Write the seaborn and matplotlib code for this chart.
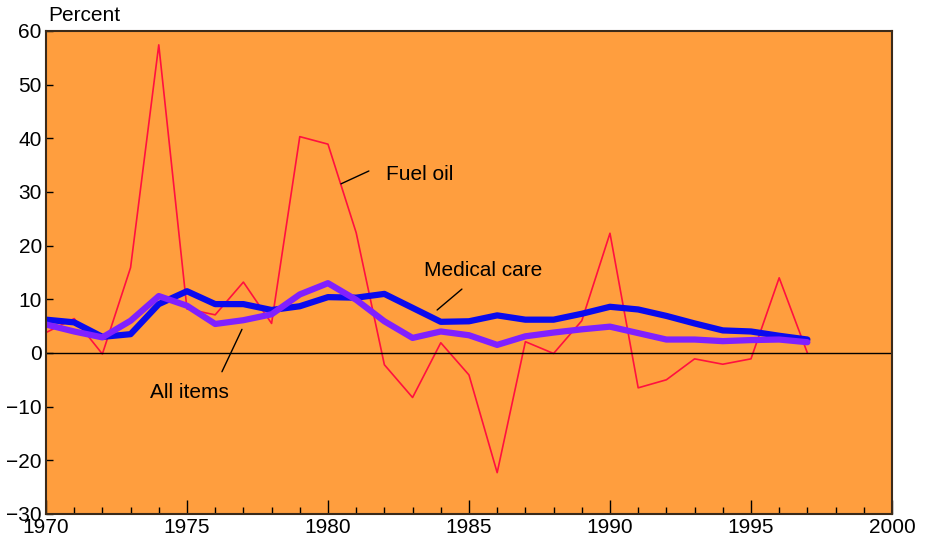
import matplotlib
matplotlib.use('Agg')
import matplotlib.pyplot as plt
from matplotlib.ticker import MultipleLocator
import seaborn as sns
import pandas as pd
import numpy as np

# --- data (percent change, annual) ---
years = list(range(1970, 1998))
fuel_oil = [3.8, 6.4, -0.2, 15.9, 57.4, 8.2, 7.1, 13.2, 5.5, 40.3, 38.9, 22.4, -2.2, -8.3,
            1.9, -4.1, -22.3, 2.1, -0.1, 6.0, 22.3, -6.5, -5.0, -1.1, -2.1, -1.1, 14.0, 0.0]
medical_care = [6.2, 5.7, 3.0, 3.5, 9.1, 11.5, 9.1, 9.1, 8.0, 8.7, 10.4, 10.3, 11.0, 8.4,
                5.8, 5.9, 7.0, 6.2, 6.2, 7.3, 8.6, 8.1, 6.9, 5.5, 4.2, 4.0, 3.2, 2.5]
all_items = [5.3, 4.0, 2.9, 6.0, 10.6, 8.8, 5.4, 6.1, 7.2, 10.9, 13.0, 9.9, 5.9, 2.8,
             4.0, 3.3, 1.5, 3.1, 3.8, 4.4, 4.9, 3.7, 2.5, 2.5, 2.2, 2.4, 2.5, 2.0]
y_ticks = list(range(-30, 61, 10))
y_ticklabels = ['\u221230', '\u221220', '\u221210', '0', '10', '20', '30', '40', '50', '60']

df = pd.DataFrame({'year': years, 'Fuel oil': fuel_oil,
                   'Medical care': medical_care, 'All items': all_items})

sns.set_style('ticks')
plt.rcParams['font.family'] = ['Liberation Sans', 'DejaVu Sans']
plt.rcParams['text.color'] = 'black'
fs = 15

fig = plt.figure(figsize=(9.25, 5.42), dpi=100)
ax = fig.add_axes([0.0497, 0.0517, 0.9146, 0.8913])
ax.set_facecolor('#FF9E3E')

sns.lineplot(data=df, x='year', y='Fuel oil', ax=ax, color='#FF1040', linewidth=1.2)
sns.lineplot(data=df, x='year', y='Medical care', ax=ax, color='#0A0AEE', linewidth=4.5)
sns.lineplot(data=df, x='year', y='All items', ax=ax, color='#8020FF', linewidth=4.5)

ax.axhline(0, color='black', linewidth=1)

ax.set_xlim(1970, 2000)
ax.set_ylim(-30, 60)
ax.xaxis.set_major_locator(MultipleLocator(5))
ax.xaxis.set_minor_locator(MultipleLocator(1))
ax.tick_params(axis='both', which='both', direction='in', labelsize=fs, colors='black')
ax.tick_params(axis='x', which='major', length=10, width=1, pad=3)
ax.tick_params(axis='x', which='minor', length=5, width=1)
ax.tick_params(axis='y', which='major', length=5, width=1, pad=3)
ax.set_yticks(y_ticks)
ax.set_yticklabels(y_ticklabels)
ax.set_xlabel('')
ax.set_ylabel('')
for s in ax.spines.values():
    s.set_color('#3a2a1a')
    s.set_linewidth(1.5)

ax.text(0.003, 1.012, 'Percent', transform=ax.transAxes, fontsize=fs, ha='left', va='bottom')

# annotations: label + leader line
ax.plot([1980.46, 1981.45], [31.5, 33.9], color='black', lw=1)
ax.text(1982.05, 33.3, 'Fuel oil', fontsize=fs, va='center', ha='left')
ax.plot([1983.87, 1984.75], [8.0, 11.9], color='black', lw=1)
ax.text(1983.4, 15.4, 'Medical care', fontsize=fs, va='center', ha='left')
ax.plot([1976.24, 1976.95], [-3.5, 4.4], color='black', lw=1)
ax.text(1975.1, -7.4, 'All items', fontsize=fs, va='center', ha='center')

fig.savefig('out.png', dpi=100)
